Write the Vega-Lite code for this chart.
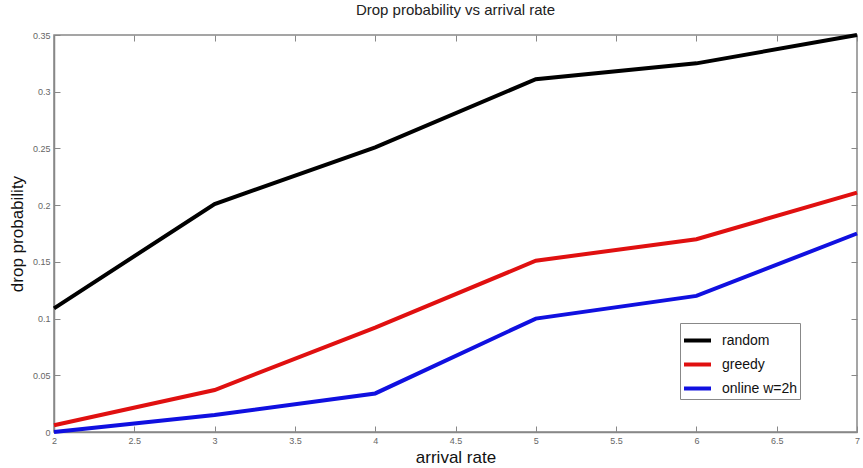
{
  "$schema": "https://vega.github.io/schema/vega-lite/v6.json",
  "autosize": "none",
  "width": 803,
  "height": 397,
  "padding": {"left": 54, "top": 35, "right": 6, "bottom": 36},
  "background": "white",
  "config": {
    "font": "Liberation Sans",
    "view": {"stroke": "#888888", "strokeWidth": 1.5}
  },
  "title": {"text": "Drop probability vs arrival rate", "fontSize": 15, "fontWeight": "normal", "color": "#222222", "offset": 9, "font": "Liberation Sans"},
  "data": {"values": [
    {"x": 2, "y": 0.109, "s": "random"},
    {"x": 3, "y": 0.201, "s": "random"},
    {"x": 4, "y": 0.251, "s": "random"},
    {"x": 5, "y": 0.311, "s": "random"},
    {"x": 6, "y": 0.325, "s": "random"},
    {"x": 7, "y": 0.35, "s": "random"},
    {"x": 2, "y": 0.006, "s": "greedy"},
    {"x": 3, "y": 0.037, "s": "greedy"},
    {"x": 4, "y": 0.092, "s": "greedy"},
    {"x": 5, "y": 0.151, "s": "greedy"},
    {"x": 6, "y": 0.170, "s": "greedy"},
    {"x": 7, "y": 0.211, "s": "greedy"},
    {"x": 2, "y": 0.0, "s": "online w=2h"},
    {"x": 3, "y": 0.015, "s": "online w=2h"},
    {"x": 4, "y": 0.034, "s": "online w=2h"},
    {"x": 5, "y": 0.100, "s": "online w=2h"},
    {"x": 6, "y": 0.120, "s": "online w=2h"},
    {"x": 7, "y": 0.175, "s": "online w=2h"}
  ]},
  "layer": [
    {
      "mark": {"type": "line", "opacity": 0},
      "encoding": {
        "x": {"field": "x", "type": "quantitative", "scale": {"domain": [2, 7], "nice": false, "zero": false},
              "axis": {"orient": "top", "title": null, "labels": false, "grid": false, "domain": false, "tickSize": -6, "tickColor": "#888888", "values": [2, 2.5, 3, 3.5, 4, 4.5, 5, 5.5, 6, 6.5, 7]}},
        "y": {"field": "y", "type": "quantitative", "scale": {"domain": [0, 0.35], "nice": false},
              "axis": {"orient": "right", "title": null, "labels": false, "grid": false, "domain": false, "tickSize": -6, "tickColor": "#888888", "values": [0, 0.05, 0.1, 0.15, 0.2, 0.25, 0.3, 0.35]}},
        "detail": {"field": "s"}
      }
    },
    {
      "mark": {"type": "line", "strokeWidth": 4},
      "encoding": {
        "x": {"field": "x", "type": "quantitative",
              "axis": {"orient": "bottom", "title": "arrival rate", "titleFontSize": 17, "titleFontWeight": "normal", "titleColor": "#111111", "titlePadding": 4,
                       "grid": false, "domainColor": "#888888", "domainWidth": 1.5, "tickSize": -6, "tickColor": "#888888", "format": "~g",
                       "labelFontSize": 9, "labelColor": "#666666", "labelPadding": 10, "labelFlush": false,
                       "values": [2, 2.5, 3, 3.5, 4, 4.5, 5, 5.5, 6, 6.5, 7]}},
        "y": {"field": "y", "type": "quantitative",
              "axis": {"orient": "left", "title": "drop probability", "titleFontSize": 17, "titleFontWeight": "normal", "titleColor": "#111111", "titlePadding": 6,
                       "grid": false, "domainColor": "#888888", "domainWidth": 1.5, "tickSize": -6, "tickColor": "#888888", "format": "~g",
                       "labelFontSize": 9, "labelColor": "#666666", "labelPadding": 10, "labelFlush": false,
                       "values": [0, 0.05, 0.1, 0.15, 0.2, 0.25, 0.3, 0.35]}},
        "color": {"field": "s", "type": "nominal",
                  "scale": {"domain": ["random", "greedy", "online w=2h"], "range": ["#000000", "#e01010", "#1010e0"]},
                  "legend": {"title": null, "orient": "none", "legendX": 626, "legendY": 288,
                             "symbolType": "M-1,0L1,0", "symbolSize": 729, "symbolStrokeWidth": 4,
                             "labelFontSize": 14, "labelColor": "#111111", "rowPadding": -4, "labelOffset": 9,
                             "strokeColor": "#888888", "fillColor": "white", "padding": 2}}
      }
    }
  ],
  "resolve": {"axis": {"x": "independent", "y": "independent"}}
}
